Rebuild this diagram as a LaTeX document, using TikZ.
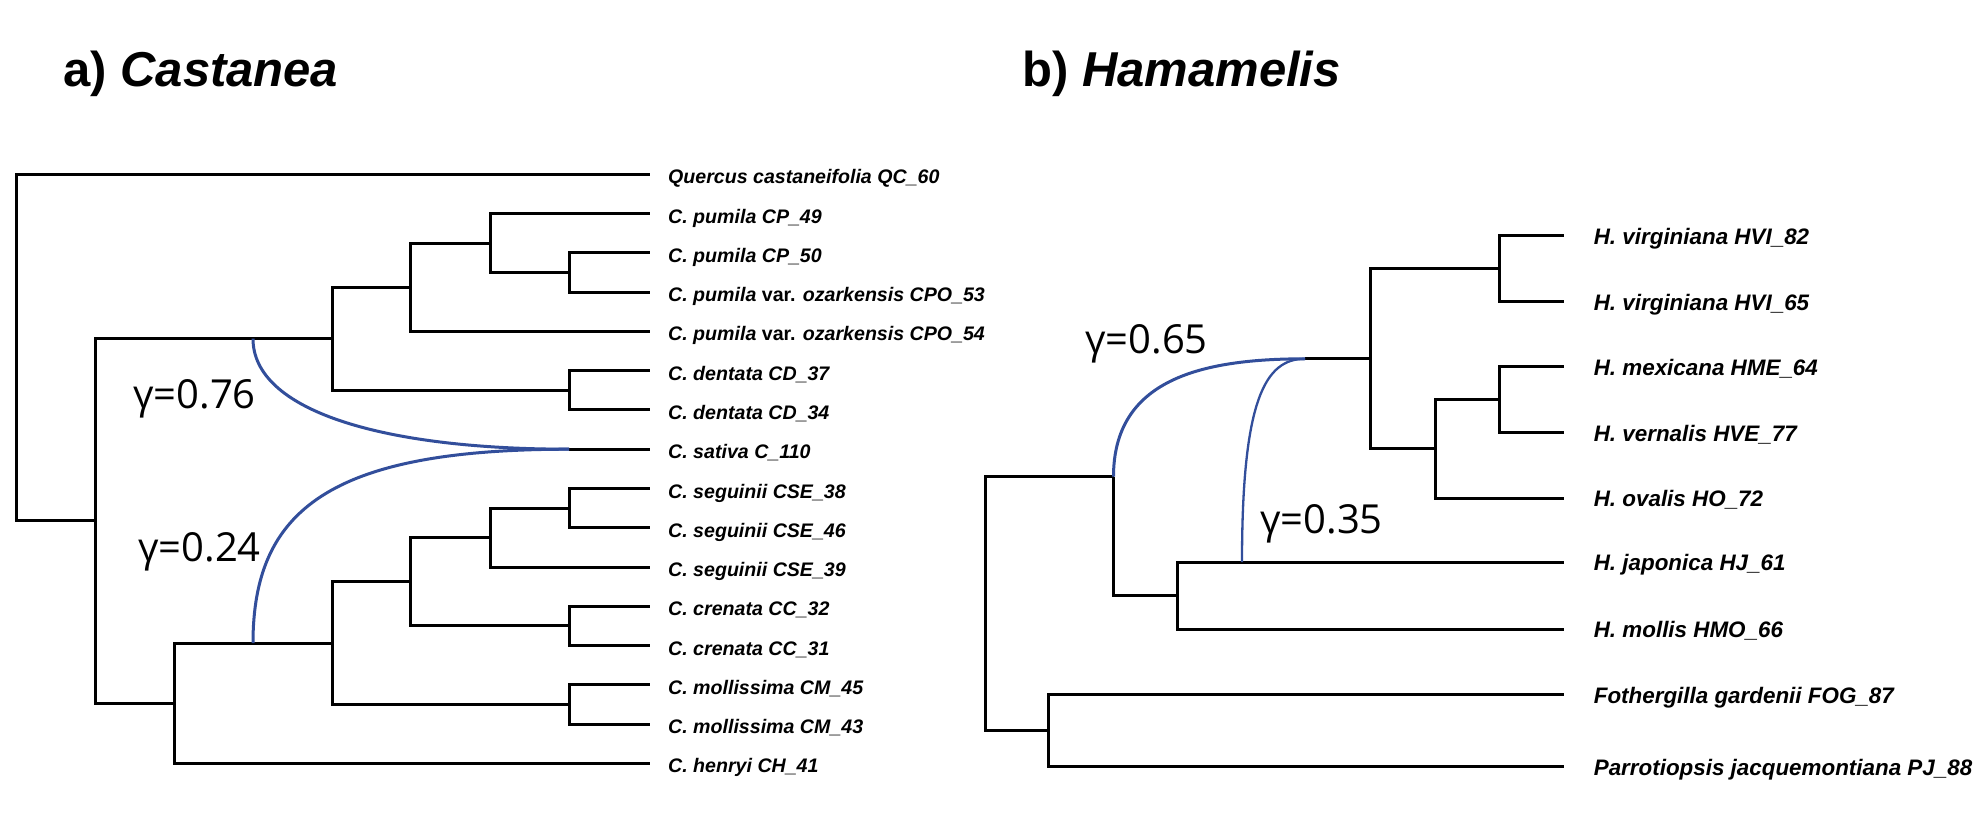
\documentclass[tikz,border=0pt]{standalone}
\usepackage{fontspec}
\setmainfont{Liberation Sans}
\newfontfamily\gamfont{Open Sans}
\definecolor{hcol}{RGB}{50,78,155}
\newcommand\leafL[3]{\coordinate (#1) at (650,#2); \node[lab] (t#1) at (668,{#2+9.5}) {#3};}
\newcommand\leafR[3]{\coordinate (#1) at (1564,#2); \node[rlab] (t#1) at (1593.6,{#2+8.5}) {#3};}
\begin{document}
\begin{tikzpicture}[x=1pt,y=-1pt,
  br/.style={line width=3pt, black},
  hyb/.style={line width=3pt, hcol},
  hybthin/.style={line width=2.3pt, hcol},
  lab/.style={anchor=base west, inner sep=0pt, font=\fontsize{19.6}{23}\selectfont\bfseries\itshape},
  rlab/.style={anchor=base west, inner sep=0pt, font=\fontsize{22.4}{26}\selectfont\bfseries\itshape},
  gam/.style={anchor=base west, inner sep=0pt, font=\gamfont\fontsize{40}{46}\selectfont},
  ttl/.style={anchor=base west, inner sep=0pt, font=\fontsize{49}{56}\selectfont\bfseries}]
\useasboundingbox[fill=white] (0,0) rectangle (1984,812);

% titles
\node[ttl] (ta) at (63,86) {a) \textit{Castanea}};
\node[ttl] (tb) at (1022,86) {b) \textit{Hamamelis}};

% ---------------- left tree ----------------
\leafL{qc}{174.3}{Quercus castaneifolia QC\_60}
\leafL{cp49}{213.6}{C. pumila CP\_49}
\leafL{cp50}{252.8}{C. pumila CP\_50}
\leafL{cpo53}{292.1}{C. pumila \textup{var.} ozarkensis CPO\_53}
\leafL{cpo54}{331.4}{C. pumila \textup{var.} ozarkensis CPO\_54}
\leafL{cd37}{370.6}{C. dentata CD\_37}
\leafL{cd34}{409.9}{C. dentata CD\_34}
\leafL{sat}{449.2}{C. sativa C\_110}
\leafL{cse38}{488.5}{C. seguinii CSE\_38}
\leafL{cse46}{527.7}{C. seguinii CSE\_46}
\leafL{cse39}{567.0}{C. seguinii CSE\_39}
\leafL{cc32}{606.3}{C. crenata CC\_32}
\leafL{cc31}{645.5}{C. crenata CC\_31}
\leafL{cm45}{684.8}{C. mollissima CM\_45}
\leafL{cm43}{724.1}{C. mollissima CM\_43}
\leafL{ch41}{763.3}{C. henryi CH\_41}

\coordinate (E) at (569,272.5);
\coordinate (D) at (490,243);
\coordinate (C) at (410.7,287.2);
\coordinate (Dd) at (569,390.3);
\coordinate (B) at (332.6,338.7);
\coordinate (J) at (569,508.1);
\coordinate (I) at (490,537.6);
\coordinate (Cc) at (569,625.9);
\coordinate (H) at (410.7,581.7);
\coordinate (Cm) at (569,704.5);
\coordinate (G) at (332.6,643.1);
\coordinate (F) at (174,703.2);
\coordinate (A) at (95,520.9);
\coordinate (RL) at (16.5,347.6);
\coordinate (S0) at (569,449.2);
\coordinate (h1) at (253,338.7);
\coordinate (h2) at (253,643.1);

\draw[br] (RL) |- (qc);
\draw[br] (RL) |- (A);
\draw[br] (A) |- (B);
\draw[br] (A) |- (F);
\draw[br] (B) |- (C);
\draw[br] (B) |- (Dd);
\draw[br] (C) |- (D);
\draw[br] (C) |- (cpo54);
\draw[br] (D) |- (cp49);
\draw[br] (D) |- (E);
\draw[br] (E) |- (cp50);
\draw[br] (E) |- (cpo53);
\draw[br] (Dd) |- (cd37);
\draw[br] (Dd) |- (cd34);
\draw[br] (S0) -- (sat);
\draw[br] (F) |- (G);
\draw[br] (F) |- (ch41);
\draw[br] (G) |- (H);
\draw[br] (G) |- (Cm);
\draw[br] (H) |- (I);
\draw[br] (H) |- (Cc);
\draw[br] (I) |- (J);
\draw[br] (I) |- (cse39);
\draw[br] (J) |- (cse38);
\draw[br] (J) |- (cse46);
\draw[br] (Cc) |- (cc32);
\draw[br] (Cc) |- (cc31);
\draw[br] (Cm) |- (cm45);
\draw[br] (Cm) |- (cm43);

\draw[hyb] (h1) .. controls (253,410) and (380,449.2) .. (S0);
\draw[hyb] (h2) .. controls (253,510) and (330,449.2) .. (S0);

\node[gam] (g76) at (133,408) {γ=0.76};
\node[gam] (g24) at (138,561.7) {γ=0.24};

% ---------------- right tree ----------------
\leafR{hvi82}{235.7}{H. virginiana HVI\_82}
\leafR{hvi65}{301.5}{H. virginiana HVI\_65}
\leafR{hme64}{366.8}{H. mexicana HME\_64}
\leafR{hve77}{432.8}{H. vernalis HVE\_77}
\leafR{ho72}{498}{H. ovalis HO\_72}
\leafR{hj61}{562}{H. japonica HJ\_61}
\leafR{hmo66}{629}{H. mollis HMO\_66}
\leafR{fog87}{694.6}{Fothergilla gardenii FOG\_87}
\leafR{pj88}{766.5}{Parrotiopsis jacquemontiana PJ\_88}

\coordinate (HV) at (1499,268.6);
\coordinate (HMV) at (1499,399.8);
\coordinate (L) at (1435,448.9);
\coordinate (K) at (1370,358.8);
\coordinate (Hk) at (1305,358.8);
\coordinate (O) at (1177.5,595.5);
\coordinate (N) at (1113.5,476.7);
\coordinate (P) at (1048.8,730.5);
\coordinate (RR) at (985,603.6);
\coordinate (h3) at (1242,562);

\draw[br] (RR) |- (N);
\draw[br] (RR) |- (P);
\draw[br] (N) |- (O);
\draw[br] (O) |- (hj61);
\draw[br] (O) |- (hmo66);
\draw[br] (P) |- (fog87);
\draw[br] (P) |- (pj88);
\draw[br] (Hk) -- (K);
\draw[br] (K) |- (HV);
\draw[br] (K) |- (L);
\draw[br] (HV) |- (hvi82);
\draw[br] (HV) |- (hvi65);
\draw[br] (L) |- (HMV);
\draw[br] (L) |- (ho72);
\draw[br] (HMV) |- (hme64);
\draw[br] (HMV) |- (hve77);

\draw[hyb] (N) .. controls (1113.5,380) and (1200,358.8) .. (Hk);
\draw[hybthin] (h3) .. controls (1242,400) and (1265,358.8) .. (Hk);

\node[gam] (g65) at (1085,353.3) {γ=0.65};
\node[gam] (g35) at (1260,533.3) {γ=0.35};
\end{tikzpicture}
\end{document}
